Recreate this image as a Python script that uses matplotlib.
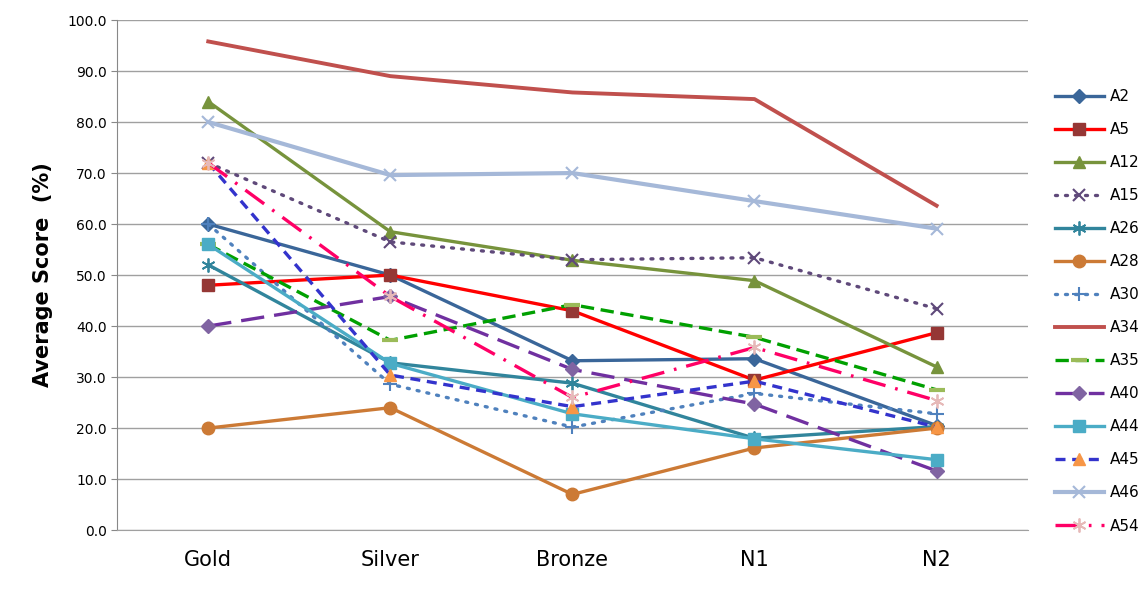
import matplotlib
matplotlib.use("Agg")
import matplotlib.pyplot as plt

categories = ["Gold", "Silver", "Bronze", "N1", "N2"]

a2 = [60.0, 50.0, 33.2, 33.6, 20.5]
a5 = [48.0, 50.0, 43.0, 29.4, 38.7]
a12 = [84.0, 58.5, 52.9, 48.9, 32.0]
a15 = [72.0, 56.5, 53.0, 53.4, 43.4]
a26 = [52.0, 32.8, 28.8, 18.0, 20.3]
a28 = [20.0, 24.0, 7.0, 16.1, 20.0]
a30 = [60.0, 28.6, 20.2, 26.8, 22.8]
a34 = [95.8, 89.0, 85.8, 84.5, 63.6]
a35 = [56.0, 37.2, 44.2, 37.8, 27.5]
a40 = [40.0, 45.8, 31.5, 24.7, 11.6]
a44 = [56.0, 32.7, 22.8, 17.9, 13.8]
a45 = [72.0, 30.4, 24.2, 29.2, 20.2]
a46 = [80.0, 69.6, 70.0, 64.5, 59.1]
a54 = [72.0, 45.8, 26.0, 35.8, 25.4]

fig = plt.figure(figsize=(11.38, 5.89), dpi=100)
ax = fig.add_axes([0.103, 0.1, 0.8, 0.866])
x = range(len(categories))
lw = 2.4

ax.plot(x, a2, color="#3A6699", lw=lw, marker="D", ms=7, label="A2")
ax.plot(x, a5, color="#FF0000", lw=lw, marker="s", ms=9, mfc="#953735", mec="#953735", label="A5")
ax.plot(x, a12, color="#77933C", lw=lw, marker="^", ms=9, label="A12")
ax.plot(x, a15, color="#5F497A", lw=lw, ls=(0, (0.6, 2.4)), dash_capstyle="round",
        marker="x", ms=9, mew=1.5, label="A15")
ax.plot(x, a26, color="#31859C", lw=lw, marker=(6, 2, 0), ms=10, mew=1.3, label="A26")
ax.plot(x, a28, color="#CC7A35", lw=lw, marker="o", ms=9, label="A28")
ax.plot(x, a30, color="#4F81BD", lw=lw, ls=(0, (0.6, 2.4)), dash_capstyle="round",
        marker="+", ms=10, mew=1.5, label="A30")
ax.plot(x, a34, color="#C0504D", lw=lw + 0.4, label="A34")
ax.plot(x, a35, color="#00A000", lw=lw, ls=(0, (4, 2)), marker="_", ms=11, mew=3,
        mec="#9BBB59", label="A35")
ax.plot(x, a40, color="#7030A0", lw=lw, ls=(0, (7, 3)), marker="D", ms=7,
        mfc="#8064A2", mec="#8064A2", label="A40")
ax.plot(x, a44, color="#4BACC6", lw=lw, marker="s", ms=9, label="A44")
ax.plot(x, a45, color="#3333CC", lw=lw, ls=(0, (3, 2)), marker="^", ms=9,
        mfc="#F79646", mec="#F79646", label="A45")
ax.plot(x, a46, color="#A5B8D8", lw=lw + 0.6, marker="x", ms=9, mew=1.5, label="A46")
ax.plot(x, a54, color="#FF0066", lw=lw, ls=(0, (7, 3, 0.8, 3)), marker=(6, 2, 0), ms=10,
        mew=1.3, mec="#E6B9B8", label="A54")

ax.set_xlim(-0.5, len(categories) - 0.5)
ax.set_ylim(0, 100)
ax.set_yticks(range(0, 101, 10))
ax.set_yticklabels([f"{v:.1f}" for v in range(0, 101, 10)], fontsize=10)
ax.set_xticks(list(x))
ax.set_xticklabels(categories, fontsize=15)
ax.tick_params(axis="x", length=0, pad=14)
ax.tick_params(axis="y", length=4, color="#888888")
ax.yaxis.grid(True, color="#A0A0A0", lw=1.0)
ax.set_axisbelow(True)
for s in ["top", "right"]:
    ax.spines[s].set_visible(False)
ax.spines["left"].set_color("#888888")
ax.spines["bottom"].set_color("#A0A0A0")
ax.set_ylabel("Average Score  (%)", fontsize=15, fontweight="bold", labelpad=10)

ax.legend(loc="upper left", bbox_to_anchor=(0.915, 0.872), bbox_transform=fig.transFigure,
          frameon=False, fontsize=11, handlelength=3.2, labelspacing=1.18,
          handletextpad=0.4)

fig.savefig("out.png", dpi=100)
